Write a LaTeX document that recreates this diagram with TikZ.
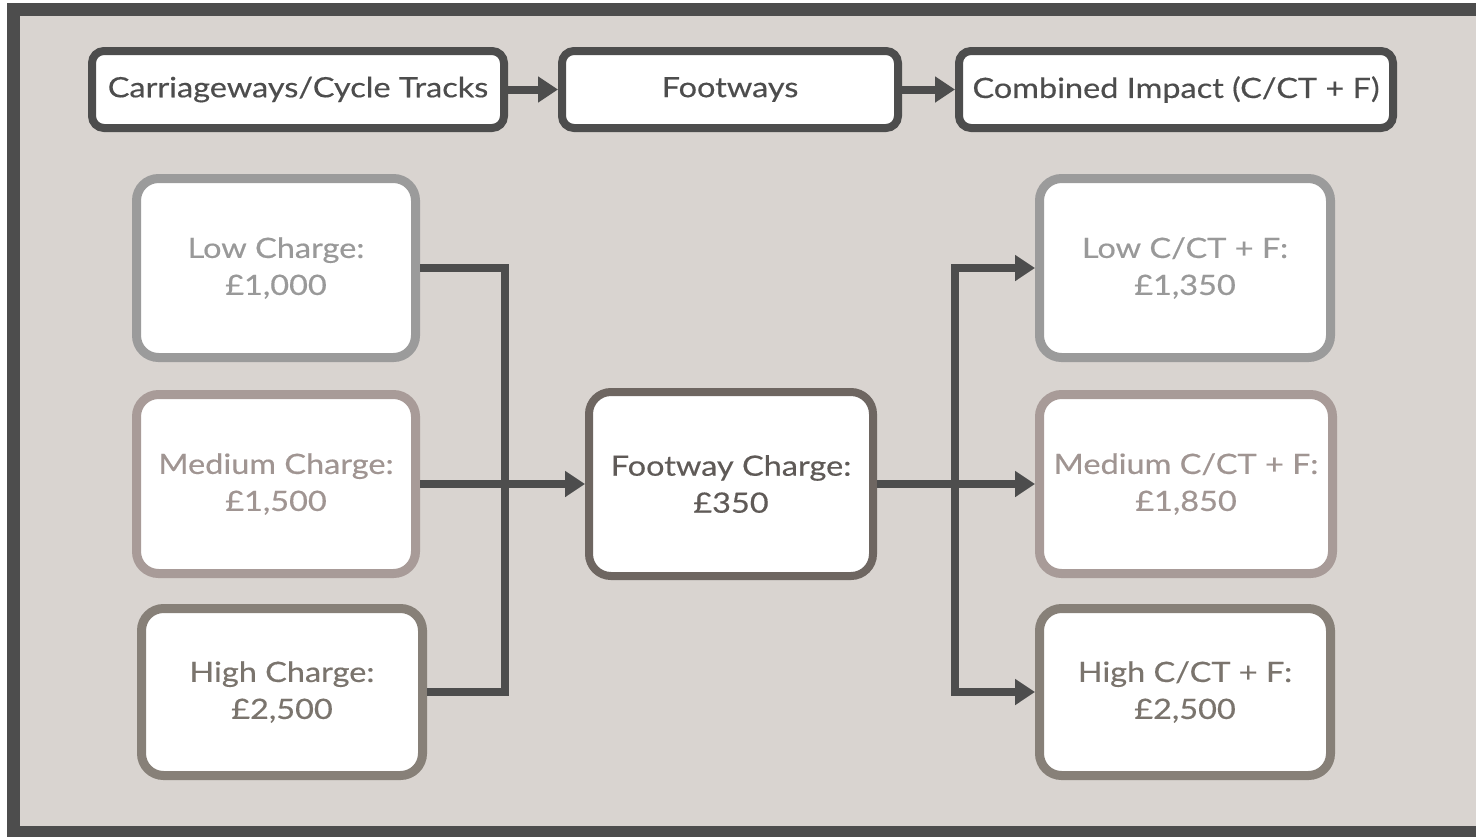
\documentclass[tikz,border=0pt]{standalone}
\usepackage{fontspec}
\setmainfont{Lato}[FakeStretch=1.16, FakeBold=0.4]
\usetikzlibrary{arrows.meta}
\definecolor{bgc}{HTML}{D9D4D0}
\definecolor{darkc}{HTML}{4D4D4D}
\definecolor{lowc}{HTML}{9B9B9B}
\definecolor{lowt}{HTML}{999999}
\definecolor{medc}{HTML}{A89B98}
\definecolor{medt}{HTML}{A09592}
\definecolor{highc}{HTML}{878078}
\definecolor{hight}{HTML}{7A746D}
\definecolor{footc}{HTML}{6E6661}
\definecolor{foott}{HTML}{5F5A57}
\tikzset{
  x=0.5pt, y=-0.5pt,
  box/.style={draw, fill=white, rounded corners=6pt, align=center, inner sep=0pt,
    font=\fontsize{14pt}{18.5pt}\selectfont},
  headbox/.style={box, draw=darkc, text=darkc, line width=4pt, minimum width=206pt, minimum height=38.5pt},
  sidebox/.style={box, rounded corners=11pt, line width=4.5pt, minimum width=139.5pt, minimum height=89.5pt},
  conn/.style={draw=darkc, line width=4pt, line join=miter},
  arr/.style={conn, -{Triangle[length=10pt,width=12.5pt]}},
}
\begin{document}
\begin{tikzpicture}
\useasboundingbox (0,0) rectangle (1476,836);
\clip (0,0) rectangle (1476,836);
\draw[line width=6.5pt, draw=darkc, fill=bgc] (13.5,9.5) rectangle (1500,832);

% header row
\node[headbox] (hc) at (298,89.5) {Carriageways/Cycle Tracks};
\node[headbox, minimum width=168pt] (hf) at (730,89.5) {Footways};
\node[headbox, minimum width=217pt] (hi) at (1176,89.5) {Combined Impact (C/CT + F)};
\draw[arr] (hc) -- (hf);
\draw[arr] (hf) -- (hi);

% left column
\node[sidebox, draw=lowc, text=lowt] (ll) at (276,268) {Low Charge:\\£1,000};
\node[sidebox, draw=medc, text=medt] (lm) at (276,484) {Medium Charge:\\£1,500};
\node[sidebox, draw=highc, text=hight, minimum width=140.5pt, minimum height=83.5pt] (lh) at (282,692) {High Charge:\\£2,500};

% centre
\node[sidebox, draw=footc, text=foott, line width=4pt, minimum width=142pt, minimum height=92pt] (fc) at (731,484) {Footway Charge:\\£350};

% right column
\node[sidebox, draw=lowc, text=lowt, minimum width=145.5pt] (rl) at (1185,268) {Low C/CT + F:\\£1,350};
\node[sidebox, draw=medc, text=medt, minimum width=146.5pt] (rm) at (1186,484) {Medium C/CT + F:\\£1,850};
\node[sidebox, draw=highc, text=hight, minimum width=145.5pt, minimum height=83.5pt] (rh) at (1185,692) {High C/CT + F:\\£2,500};

% connectors
\coordinate (lbus) at (505,484);
\coordinate (rbus) at (955,484);
\draw[conn] (ll.east) -| (lbus) |- (lh.east);
\draw[arr] (lm.east) -- (fc.west);
\draw[conn] (fc.east) -- (rbus);
\draw[arr] (rbus) |- (rl.west);
\draw[arr] (rbus) -- (rm.west);
\draw[arr] (rbus) |- (rh.west);
\end{tikzpicture}
\end{document}
